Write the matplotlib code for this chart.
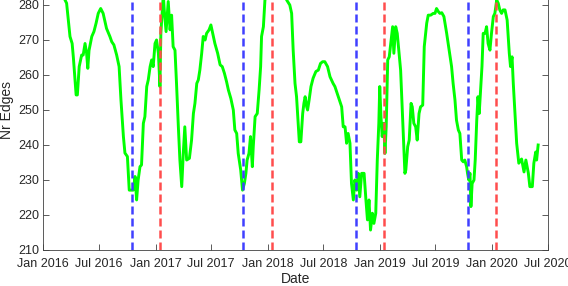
import numpy as np
import matplotlib
matplotlib.use("Agg")
import matplotlib.pyplot as plt
import matplotlib.dates as mdates

plt.rcParams['font.family'] = ['Liberation Sans', 'DejaVu Sans']

start = np.datetime64('2016-01-01')

# days since 2016-01-01 and number of edges
day_offsets = [3, 40, 71, 76, 87, 94, 98, 107, 111, 117, 125, 130, 136, 141, 145, 149,
               158, 165, 172, 179, 187, 195, 206, 217, 223, 230, 239, 247, 253, 261,
               266, 274, 280, 293, 299, 304, 309, 315, 320, 326, 331, 337, 342, 348,
               353, 358, 364, 369, 375, 380, 383, 391, 394, 400, 407, 413, 418, 423,
               429, 434, 440, 445, 451, 456, 461, 467, 476, 483, 489, 494, 500, 505,
               510, 516, 521, 527, 532, 540, 546, 554, 559, 568, 576, 583, 590, 597,
               603, 611, 619, 624, 630, 635, 643, 649, 655, 660, 664, 670, 675, 681,
               684, 690, 697, 703, 708, 711, 717, 722, 758, 793, 803, 809, 814, 820,
               825, 831, 834, 839, 845, 849, 853, 858, 861, 866, 872, 879, 888, 896,
               903, 910, 917, 926, 934, 944, 950, 961, 972, 977, 983, 988, 993, 999,
               1004, 1010, 1015, 1021, 1026, 1031, 1037, 1045, 1051, 1056, 1061, 1066,
               1072, 1077, 1083, 1088, 1093, 1096, 1100, 1104, 1109, 1113, 1117, 1122,
               1127, 1132, 1138, 1142, 1148, 1153, 1159, 1164, 1169, 1175, 1178, 1181,
               1187, 1192, 1198, 1202, 1207, 1213, 1218, 1224, 1229, 1236, 1241, 1249,
               1254, 1262, 1270, 1276, 1281, 1287, 1292, 1298, 1305, 1314, 1322, 1330,
               1335, 1341, 1346, 1352, 1357, 1363, 1368, 1373, 1379, 1382, 1386, 1390,
               1393, 1397, 1403, 1407, 1412, 1416, 1420, 1425, 1429, 1433, 1439, 1444,
               1449, 1455, 1460, 1466, 1471, 1477, 1482, 1487, 1493, 1498, 1504, 1511,
               1518, 1522, 1527, 1531, 1537, 1542, 1549, 1558, 1566, 1572, 1580, 1585,
               1593, 1598, 1604, 1607, 1612]
nr_edges = [292, 287, 281.4, 280.5, 271, 269, 265, 254.3, 254.3, 262.4, 265.7, 265.7, 269,
            266.3, 261.9, 267, 271, 272.4, 274.8, 277.6, 279, 277.6, 273.3, 271, 269.5,
            268.6, 265.7, 262.4, 252.9, 242.4, 237.7, 236.7, 227.1, 227.1, 231, 224.3,
            230, 233.8, 234.3, 246.2, 248.1, 256.7, 258.6, 262.4, 264.3, 262.4, 269,
            270, 266.2, 256.7, 271.9, 283, 278.6, 272.4, 281, 272.9, 277.1, 268.1,
            267.1, 257.6, 245.2, 235.7, 228.1, 237.6, 245.2, 235.7, 236.2, 241.4, 249,
            251.9, 257.6, 258.6, 261.4, 266.2, 271, 270, 271.9, 272.9, 274.3, 271, 269,
            266.2, 262.9, 262.4, 260.5, 258.1, 255.7, 253.3, 250, 244.3, 243.3,
            237.6, 232.9, 227.1, 229, 231.9, 235.7, 237.6, 242.4, 233.8, 239.5, 248.1,
            249, 255.7, 262.4, 271, 273.8, 281.4, 290, 281.4, 280, 277.6, 267.1, 257.6,
            253.8, 245.2, 240.9, 240.9, 249, 251.9, 253.8, 250.9, 250, 252.9, 256.7,
            259.1, 261, 261.4, 263.3, 263.8, 263.8, 262.4, 259.5, 257.6, 256.7, 253.8,
            250.9, 245.2, 245.2, 240.5, 243.3, 240.5, 229, 224.3, 230, 227.1, 231.9,
            225.2, 231.9, 231.9, 224.3, 218.6, 224.3, 215.7, 220.5, 217.6, 220.5, 235.7,
            246.2, 256.7, 248.1, 242.4, 246.2, 237.6, 245.2, 264.3, 265.2, 269, 273.8,
            266.2, 273.8, 271.9, 266.2, 261.4, 250.9, 237.6, 231.9, 232.9, 239.5, 241.4,
            251.9, 250.9, 246.2, 245.2, 241.4, 249, 250.9, 251.4, 268.1, 274.8, 277.1,
            277.1, 277.6, 277.6, 279, 278.1, 277.6, 277.8, 276.7, 271.9, 267.1, 262.4,
            257.6, 252.9, 247.1, 244.3, 243.3, 235.7, 235.2, 235.7, 233.8, 231.9, 230,
            231.9, 222.4, 229, 230, 235.7, 247.1, 253.8, 249, 256.7, 262.4, 271.9, 271.9,
            273.8, 269, 267.1, 271.9, 276.7, 277.6, 281.4, 280.5, 278.6, 277.6, 278.6,
            278.6, 275.7, 266.2, 262.4, 265.2, 257.6, 248.1, 240.5, 234.8, 236, 232.3,
            235.7, 232, 228.1, 228.1, 234.8, 238, 235.7, 240]

blue_dates = ['2016-10-15', '2017-10-14', '2018-10-15', '2019-10-14']
red_dates = ['2017-01-15', '2018-01-16', '2019-01-15', '2020-01-14']

dates = start + np.array(day_offsets).astype('timedelta64[D]')

fig = plt.figure(figsize=(5.68, 2.86), dpi=100)
ax = fig.add_axes([0.0762, 0.1259, 0.888, 0.979])

ax.plot(dates, nr_edges, color='#00ff00', lw=2.1, zorder=2)
for d in blue_dates:
    ax.axvline(np.datetime64(d), color='#4040ff', lw=1.8, ls=(0, (3.2, 1.6)), zorder=3)
for d in red_dates:
    ax.axvline(np.datetime64(d), color='#ff4d4d', lw=1.8, ls=(0, (3.2, 1.6)), zorder=3)

ax.set_xlim(np.datetime64('2016-01-01'), np.datetime64('2020-07-01'))
ax.set_ylim(210, 290)
ax.set_yticks(np.arange(210, 281, 10))
ax.xaxis.set_major_locator(mdates.MonthLocator(bymonth=[1, 7]))
ax.xaxis.set_major_formatter(mdates.DateFormatter('%b %Y'))

ax.tick_params(direction='in', length=4, width=0.6, color='#404040',
               labelcolor='#262626', labelsize=9, right=True, top=True, pad=3)
ax.tick_params(axis='x', pad=6)
for s in ax.spines.values():
    s.set_color('#404040')
    s.set_linewidth(0.6)

ax.set_xlabel('Date', fontsize=10, color='#262626', labelpad=1.5)
ax.set_ylabel('Nr Edges', fontsize=10, color='#262626', labelpad=3)

fig.savefig('out.png', dpi=100)
